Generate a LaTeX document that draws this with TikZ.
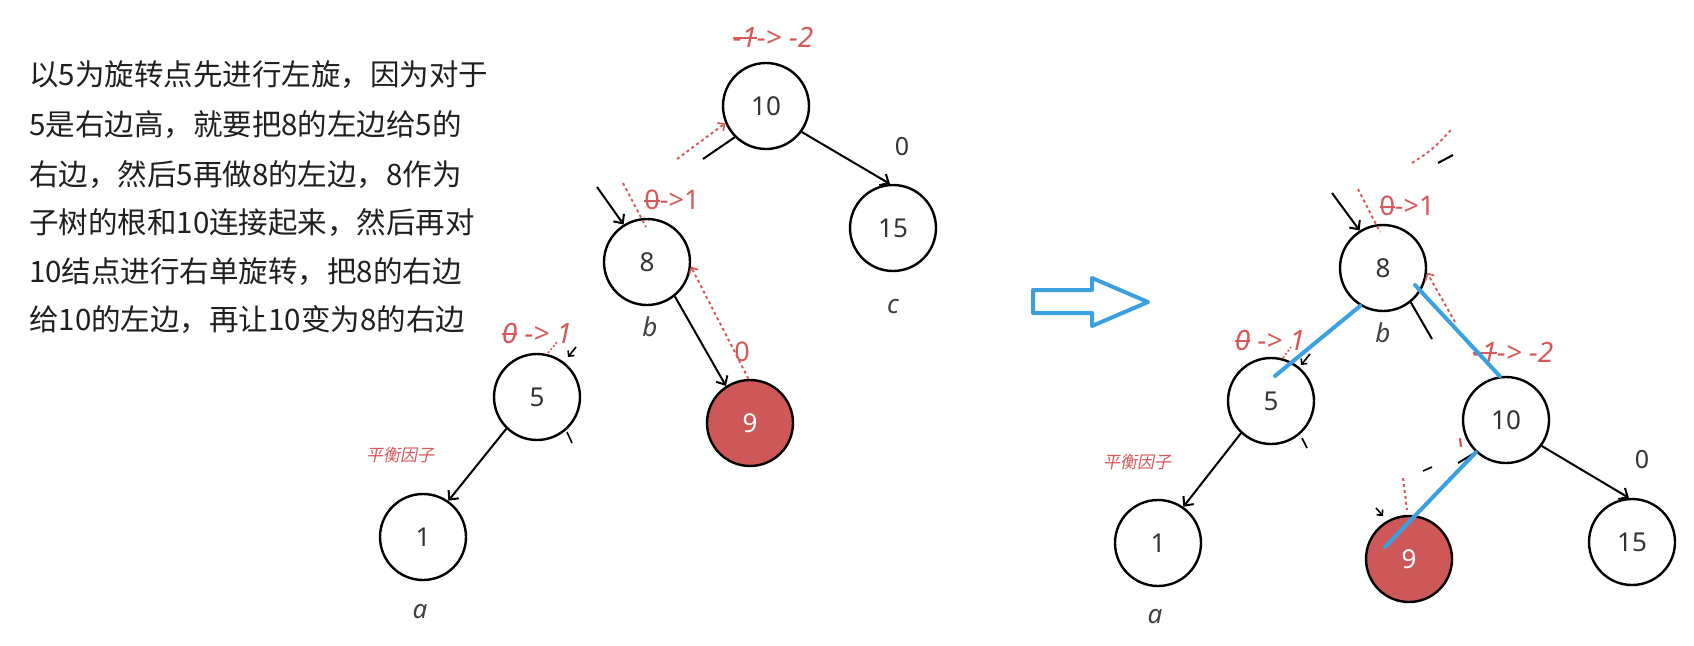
\documentclass[tikz,border=0pt]{standalone}
\usepackage{fontspec}
\setmainfont{Noto Sans}
\newfontfamily\cjk{Noto Sans CJK SC}
\newfontfamily\cjkit[FakeSlant=0.2]{Noto Sans CJK SC}
\usetikzlibrary{arrows.meta,calc}
\definecolor{annred}{RGB}{214,88,88}
\definecolor{nodered}{RGB}{206,88,88}
\definecolor{skyblue}{RGB}{58,160,224}
\newsavebox\strkbox
\newcommand\strk[1]{\sbox\strkbox{#1}\rlap{\raisebox{.3em}{\rule{\wd\strkbox}{.07em}}}\usebox\strkbox}
\begin{document}
\begin{tikzpicture}[x=1pt,y=-1pt,
  tnode/.style={circle,draw,line width=2.4pt,minimum size=86pt,inner sep=0pt,font=\fontsize{26}{30}\selectfont,text=black!80},
  rednode/.style={tnode,fill=nodered,text=white},
  edgearr/.style={line width=2pt,-{Straight Barb[length=7pt,width=13pt,line width=2pt]}},
  seg/.style={line width=2pt},
  redarr/.style={annred,line width=1.9pt,dash pattern=on 3pt off 3pt,-{Straight Barb[length=5pt,width=10pt,line width=1.6pt]}},
  redline/.style={annred,line width=1.9pt,dash pattern=on 3pt off 3pt},
  bluel/.style={skyblue,line width=4pt,line cap=round},
  ann/.style={text=annred,font=\fontsize{28}{32}\selectfont\itshape,inner sep=0pt},
  annup/.style={text=annred,font=\fontsize{27}{30}\selectfont,inner sep=0pt},
  cjkann/.style={text=annred,font=\cjkit\fontsize{17}{20}\selectfont,inner sep=0pt},
  lbl/.style={font=\fontsize{26}{30}\selectfont\itshape,text=black!75,inner sep=0pt},
  num/.style={font=\fontsize{25}{28}\selectfont,text=black!80,inner sep=0pt},
  txt/.style={anchor=west,font=\cjk\fontsize{29.5}{34}\selectfont,text=black!88,inner sep=0pt},
]
\useasboundingbox (0,0) rectangle (1694,645);

% ---------- explanatory text ----------
\node[txt] (t1) at (29,75)  {以5为旋转点先进行左旋，因为对于};
\node[txt] (t2) at (29,125) {5是右边高，就要把8的左边给5的};
\node[txt] (t3) at (29,175) {右边，然后5再做8的左边，8作为};
\node[txt] (t4) at (29,223) {子树的根和10连接起来，然后再对};
\node[txt] (t5) at (29,272) {10结点进行右单旋转，把8的右边};
\node[txt] (t6) at (29,320) {给10的左边，再让10变为8的右边};

% ---------- left tree ----------
\node[tnode]   (n10L) at (766,106) {10};
\node[tnode]   (n15L) at (893,228) {15};
\node[tnode]   (n8L)  at (647,262) {8};
\node[rednode] (n9L)  at (750,423) {9};
\node[tnode]   (n5L)  at (537,397) {5};
\node[tnode]   (n1L)  at (423,537) {1};

\node[lbl] (bL) at (650,327) {b};
\node[lbl] (cL) at (893,307) {c};
\node[lbl] (aL) at (420,612) {a};
\node[num] (z15L) at (902,147) {0};

\node[ann]   (bf10L) at (773,37)  {\strk{-1}-> -2};
\node[annup] (bf8L)  at (672,200) {\strk{0}->1};
\node[annup] (bf9L)  at (742,352) {0};
\node[ann]   (bf5L)  at (537,333) {\strk{0} -> 1};
\node[cjkann] (bfL)  at (400,455) {平衡因子};

\draw[edgearr] (n10L.-36) -- (n15L.94);
\draw[edgearr] (n8L.-51) -- (n9L.123);
\draw[edgearr] (n5L.-134) -- (n1L.55);
\coordinate (in8L) at (597,187);
\draw[edgearr] (in8L) -- (n8L.122);
\coordinate (f10L) at (703,159);
\draw[seg] (n10L.-135) -- (f10L);
\draw[redarr] (n9L.92) -- (n8L.-6);
\coordinate (r10L) at (677,159);
\draw[redarr] (r10L) -- (n10L.-157);
\coordinate (d8a) at (623,183);
\coordinate (d8b) at (646,227);
\draw[redline] (d8a) -- (d8b);
\coordinate (k5a) at (576,347);
\coordinate (k5b) at (568,357);
\draw[line width=1.6pt,-{Straight Barb[length=4pt,width=8pt,line width=1.6pt]}] (k5a) -- (k5b);
\coordinate (d5a) at (548,353);
\coordinate (d5b) at (557,342);
\draw[annred,line width=1.6pt,dash pattern=on 2pt off 2pt] (d5a) -- (d5b);
\coordinate (g5a) at (567,432);
\coordinate (g5b) at (572,443);
\draw[line width=1.6pt] (g5a) -- (g5b);

% ---------- blue transition arrow ----------
\draw[skyblue,line width=4pt,line join=round]
  (1033,290) -- (1092,290) -- (1092,278) -- (1148,302) -- (1092,326) -- (1092,313) -- (1033,313) -- cycle;

% ---------- right tree ----------
\node[tnode]   (n8R)  at (1383,268) {8};
\node[tnode]   (n5R)  at (1271,401) {5};
\node[tnode]   (n1R)  at (1158,543) {1};
\node[tnode]   (n10R) at (1506,420) {10};
\node[rednode] (n9R)  at (1409,559) {9};
\node[tnode]   (n15R) at (1632,542) {15};

\node[lbl] (bR) at (1383,333) {b};
\node[lbl] (aR) at (1155,617) {a};
\node[num] (z15R) at (1642,460) {0};

\node[annup] (bf8R)  at (1407,206) {\strk{0}->1};
\node[ann]   (bf5R)  at (1270,340) {\strk{0} -> 1};
\node[ann]   (bf10R) at (1513,352) {\strk{-1}-> -2};
\node[cjkann] (bfR)  at (1137,462) {平衡因子};

\draw[edgearr] (n10R.-36) -- (n15R.94);
\draw[edgearr] (n5R.-133) -- (n1R.55);
\coordinate (in8R) at (1332,193);
\draw[edgearr] (in8R) -- (n8R.122);
\coordinate (d8Ra) at (1358,189);
\coordinate (d8Rb) at (1380,232);
\draw[redline] (d8Ra) -- (d8Rb);
\coordinate (topRa) at (1412,163);
\coordinate (topRb) at (1452,129);
\draw[redline] (topRa) .. controls (1432,150) .. (topRb);
\coordinate (topKa) at (1438,163);
\coordinate (topKb) at (1453,155);
\draw[seg] (topKa) -- (topKb);
\coordinate (f8R) at (1432,339);
\draw[seg] (n8R.-51) -- (f8R);
\coordinate (r8R) at (1455,322);
\draw[redarr] (r8R) -- (n8R.-6);
\coordinate (k5Ra) at (1310,354);
\coordinate (k5Rb) at (1301,365);
\draw[line width=1.6pt,-{Straight Barb[length=4pt,width=8pt,line width=1.6pt]}] (k5Ra) -- (k5Rb);
\coordinate (d5Ra) at (1283,358);
\coordinate (d5Rb) at (1291,347);
\draw[annred,line width=1.6pt,dash pattern=on 2pt off 2pt] (d5Ra) -- (d5Rb);
\coordinate (g5Ra) at (1302,438);
\coordinate (g5Rb) at (1307,448);
\draw[line width=1.6pt] (g5Ra) -- (g5Rb);
% fragments near 9
\coordinate (k9a) at (1458,463);
\draw[seg] (n10R.-133) -- (k9a);
\coordinate (k9b) at (1423,471);
\coordinate (k9c) at (1432,467);
\draw[line width=1.6pt] (k9b) -- (k9c);
\coordinate (r9a) at (1403,478);
\coordinate (r9b) at (1407,510);
\draw[redline] (r9a) -- (r9b);
\coordinate (rt10a) at (1460,438);
\coordinate (rt10b) at (1461,447);
\draw[annred,line width=2.2pt] (rt10a) -- (rt10b);
\coordinate (k9d) at (1376,508);
\coordinate (k9e) at (1383,516);
\draw[line width=1.6pt,-{Straight Barb[length=4pt,width=8pt,line width=1.6pt]}] (k9d) -- (k9e);

% blue rotation lines
\coordinate (b5R) at ($(n5R)+(4,-25)$);
\draw[bluel] (n8R.-121) -- (b5R);
\coordinate (b8R) at ($(n8R)+(32,17)$);
\draw[bluel] (b8R) -- (n10R.98);
\coordinate (b9R) at ($(n9R)+(-24,-12)$);
\draw[bluel] (n10R.-133) -- (b9R);
\end{tikzpicture}
\end{document}
